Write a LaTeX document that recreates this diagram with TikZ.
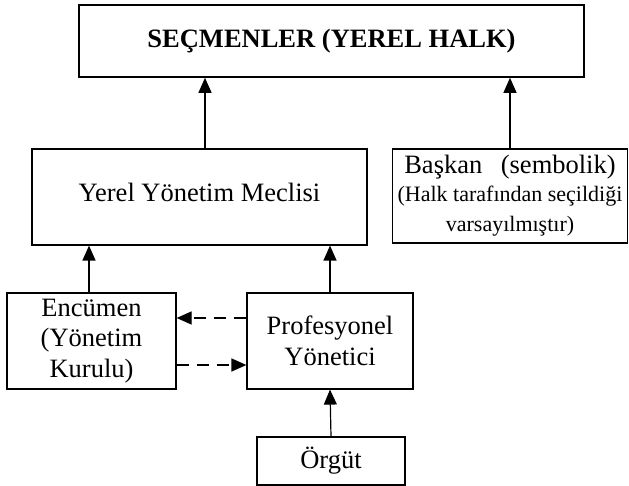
\documentclass[tikz,border=0pt]{standalone}
\usepackage{fontspec}
\setmainfont{Liberation Serif}
\usetikzlibrary{arrows.meta}
\tikzset{
  box/.style={draw, line width=1.2pt, inner sep=0pt, align=center,
    font=\fontsize{26.5}{30.5}\selectfont},
  arr/.style={line width=1.2pt, -{Triangle[length=15pt,width=13pt]}},
  dasharr/.style={arr, dash pattern=on 12pt off 8pt},
}
\begin{document}
\begin{tikzpicture}[x=1pt,y=-1pt]
  \useasboundingbox (0,0) rectangle (629,486);
  % boxes
  \node[box, line width=1.6pt, minimum width=505pt, minimum height=72pt] (secmen) at (331.5,41) {\textbf{SEÇMENLER (YEREL HALK)}};
  \node[box, text depth=10pt, minimum width=335pt, minimum height=96pt] (meclis) at (199.5,197) {Yerel Yönetim Meclisi};
  \node[box, minimum width=235pt, minimum height=94pt] (baskan) at (510,196) {Başkan\hspace{0.45em} (sembolik)\\[-3pt]
    \fontsize{22}{23}\selectfont (Halk tarafından seçildiği\\ \fontsize{22}{23}\selectfont varsayılmıştır)};
  \node[box, minimum width=169pt, minimum height=96pt] (encumen) at (91.5,341) {Encümen\\(Yönetim\\Kurulu)};
  \node[box, minimum width=166pt, minimum height=96pt] (yonetici) at (330,341) {Profesyonel\\Yönetici};
  \node[box, minimum width=148pt, minimum height=48pt] (orgut) at (331,461) {Örgüt};
  % arrows
  \draw[arr] ([xshift=5.5pt]meclis.north) -- ([xshift=5.5pt]meclis.north |- secmen.south);
  \draw[arr] (baskan.north) -- (baskan.north |- secmen.south);
  \draw[arr] ([xshift=-2.5pt]encumen.north) -- ([xshift=-2.5pt]encumen.north |- meclis.south);
  \draw[arr] (yonetici.north) -- (yonetici.north |- meclis.south);
  \draw[arr] (orgut.north) -- (yonetici.south);
  \draw[dasharr] ([yshift=23pt]yonetici.west) -- ([yshift=23pt]yonetici.west -| encumen.east);
  \draw[dasharr] ([yshift=-24pt]encumen.east) -- ([yshift=-24pt]encumen.east -| yonetici.west);
\end{tikzpicture}
\end{document}
